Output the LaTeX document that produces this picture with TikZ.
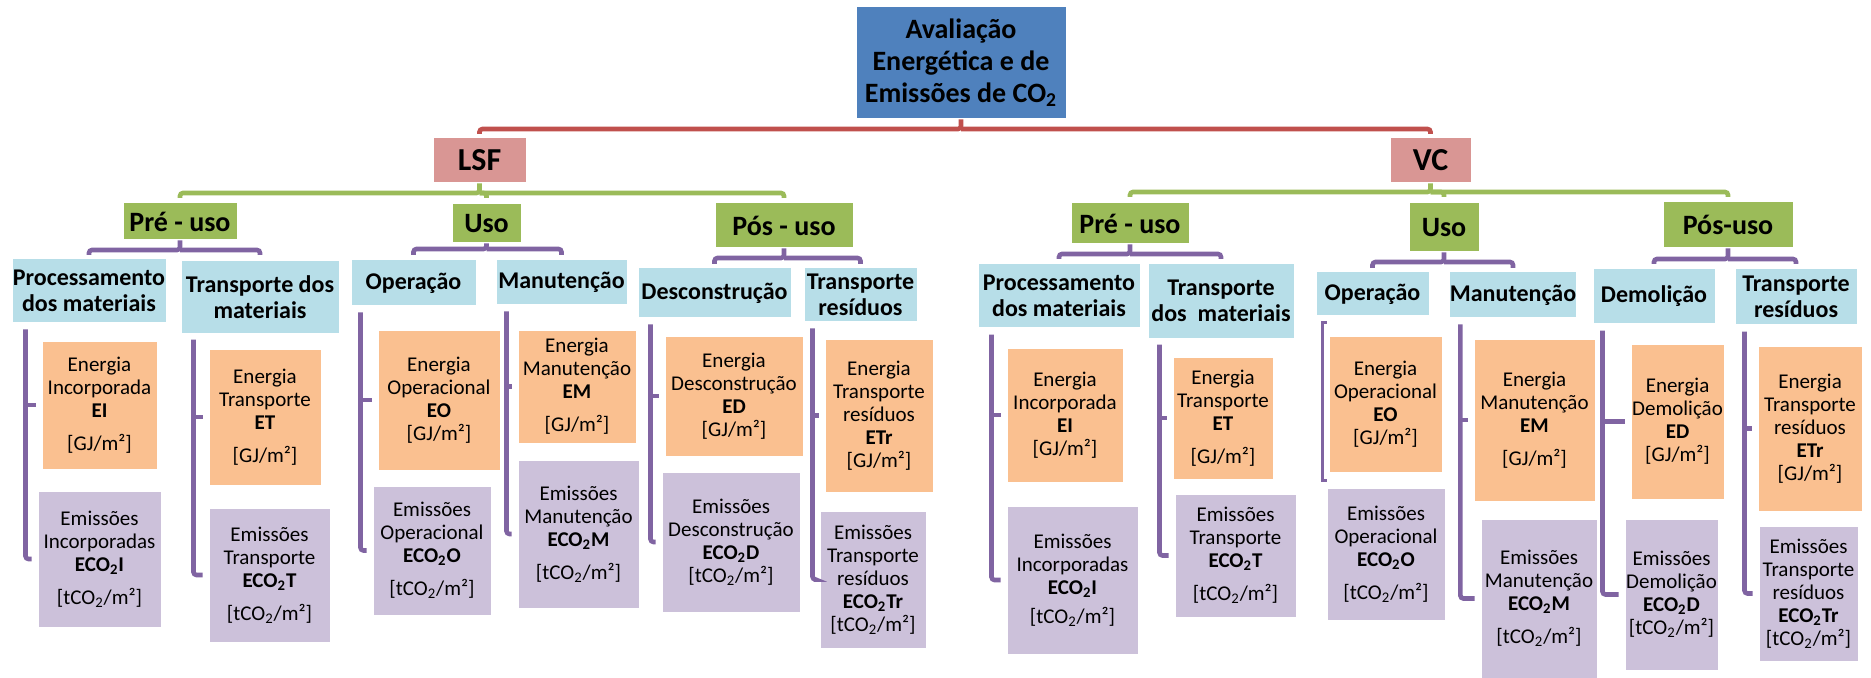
\documentclass[tikz,border=0pt]{standalone}
\usepackage{fontspec}
\setmainfont{Carlito}
\usetikzlibrary{calc}

\definecolor{titleblue}{HTML}{4F81BD}
\definecolor{rootpink}{HTML}{D99694}
\definecolor{phasegreen}{HTML}{9BBB59}
\definecolor{stageblue}{HTML}{B7DEE8}
\definecolor{energyorange}{HTML}{FAC090}
\definecolor{emislilac}{HTML}{CCC1DA}
\definecolor{linkred}{HTML}{C0504D}
\definecolor{linkpurple}{HTML}{8064A2}

\tikzset{
  cell/.style={rectangle, draw=white, line width=0.5pt, inner sep=0pt, align=center, text=black},
  titlebox/.style={cell, fill=titleblue, font=\fontsize{14}{16}\selectfont\bfseries},
  rootbox/.style={cell, fill=rootpink, font=\fontsize{16}{18}\selectfont\bfseries},
  phasebox/.style={cell, fill=phasegreen, font=\fontsize{14}{16}\selectfont\bfseries},
  stagebox/.style={cell, fill=stageblue, font=\fontsize{12}{13}\selectfont\bfseries},
  energybox/.style={cell, fill=energyorange, font=\fontsize{10.5}{11.5}\selectfont},
  emisbox/.style={cell, fill=emislilac, font=\fontsize{10.5}{11.5}\selectfont},
  link/.style={line width=2.3pt, rounded corners=1.5pt},
  redlink/.style={link, draw=linkred},
  greenlink/.style={link, draw=phasegreen},
  purplelink/.style={link, draw=linkpurple},
}

% box given by its corners (x1,y1) (x2,y2), y growing downwards
\newcommand{\placebox}[7]{%
  \node[#2, minimum width={(#5-(#3))*0.5pt}, minimum height={(#6-(#4))*0.5pt}]
    (#1) at ({(#3+#5)/2},{(#4+#6)/2}) {#7};}

% parent -> two children, elbow bracket at level #3, ends at #4
\newcommand{\phaselink}[6]{%
  \draw[#1] (#2.south) -- (#2.south |- 0,#3) -| (#5.north |- 0,#4);
  \draw[#1] (#2.south |- 0,#3) -| (#6.north |- 0,#4);}

% side rail under a stage box, with ticks towards its two children
\newcommand{\sidelink}[4]{%
  \coordinate (#1-top) at ($(#1.south west)+(#2,6)$);
  \draw[purplelink] (#1-top) |- ($(#4.west)+(-6,0)$);
  \draw[purplelink] (#1-top |- #3.west) -- ($(#3.west)+(-6,0)$);}

\newcommand{\gjunit}{[GJ/m²]}
\newcommand{\tcunit}{[tCO\textsubscript{2}/m²]}
\newcommand{\eco}[1]{\textbf{ECO\textsubscript{2}#1}}

\begin{document}
\begin{tikzpicture}[x=0.5pt, y=-0.5pt]
\useasboundingbox (0,0) rectangle (1871,678);

% ---------- top levels ----------
\placebox{title}{titlebox}{856}{7}{1066}{119}{Avaliação\\Energética e de\\Emissões de CO\textsubscript{2}}
\placebox{lsf}{rootbox}{433}{138}{526}{183}{LSF}
\placebox{vc}{rootbox}{1390}{138}{1471}{183}{VC}

\placebox{preL}{phasebox}{123}{203}{237}{240}{Pré - uso}
\placebox{usoL}{phasebox}{452}{204}{521}{243}{Uso}
\placebox{posL}{phasebox}{715}{203}{853}{248}{Pós - uso}
\placebox{preV}{phasebox}{1071}{203}{1189}{244}{Pré - uso}
\placebox{usoV}{phasebox}{1409}{203}{1479}{252}{Uso}
\placebox{posV}{phasebox}{1663}{202}{1793}{248}{Pós-uso}

% ---------- stages ----------
\placebox{procL}{stagebox}{12}{259}{166}{323}{Processamento\\dos materiais}
\placebox{trmL}{stagebox}{181}{261}{339}{333}{Transporte dos\\materiais}
\placebox{opL}{stagebox}{351}{260}{476}{306}{Operação}
\placebox{manL}{stagebox}{496}{260}{627}{305}{Manutenção}
\placebox{decL}{stagebox}{638}{268}{791}{318}{Desconstrução}
\placebox{trrL}{stagebox}{804}{268}{917}{322}{Transporte\\resíduos}

\placebox{procV}{stagebox}{978}{264}{1140}{328}{Processamento\\dos materiais}
\placebox{trmV}{stagebox}{1148}{264}{1294}{338}{Transporte\\dos\ \ materiais}
\placebox{opV}{stagebox}{1316}{272}{1429}{316}{Operação}
\placebox{manV}{stagebox}{1450}{272}{1576}{318}{Manutenção}
\placebox{demV}{stagebox}{1593}{269}{1715}{324}{Demolição}
\placebox{trrV}{stagebox}{1735}{269}{1857}{325}{Transporte\\resíduos}

% ---------- indicators, LSF ----------
\placebox{eiL}{energybox}{42}{341}{157}{469}{Energia\\Incorporada\\\textbf{EI}\\[5pt]{}\gjunit}
\placebox{eciL}{emisbox}{38}{491}{161}{627}{Emissões\\Incorporadas\\\eco{I}\\[5pt]{}\tcunit}
\placebox{etL}{energybox}{209}{349}{321}{485}{Energia\\Transporte\\\textbf{ET}\\[5pt]{}\gjunit}
\placebox{ectL}{emisbox}{209}{508}{330}{642}{Emissões\\Transporte\\\eco{T}\\[5pt]{}\tcunit}
\placebox{eoL}{energybox}{378}{330}{500}{470}{Energia\\Operacional\\\textbf{EO}\\{}\gjunit}
\placebox{ecoL}{emisbox}{373}{486}{491}{615}{Emissões\\Operacional\\\eco{O}\\[5pt]{}\tcunit}
\placebox{emL}{energybox}{518}{330}{636}{443}{Energia\\Manutenção\\\textbf{EM}\\[5pt]{}\gjunit}
\placebox{ecmL}{emisbox}{518}{460}{639}{608}{Emissões\\Manutenção\\\eco{M}\\[5pt]{}\tcunit}
\placebox{edL}{energybox}{665}{336}{803}{456}{Energia\\Desconstrução\\\textbf{ED}\\{}\gjunit}
\placebox{ecdL}{emisbox}{662}{472}{800}{612}{Emissões\\Desconstrução\\\eco{D}\\{}\tcunit}
\placebox{etrL}{energybox}{825}{339}{933}{492}{Energia\\Transporte\\resíduos\\\textbf{ETr}\\{}\gjunit}
\placebox{ectrL}{emisbox}{820}{511}{926}{648}{Emissões\\Transporte\\resíduos\\\eco{Tr}\\{}\tcunit}

% ---------- indicators, VC ----------
\placebox{eiV}{energybox}{1007}{348}{1123}{482}{Energia\\Incorporada\\\textbf{EI}\\{}\gjunit}
\placebox{eciV}{emisbox}{1007}{506}{1138}{654}{Emissões\\Incorporadas\\\eco{I}\\[3pt]{}\tcunit}
\placebox{etV}{energybox}{1173}{357}{1273}{479}{Energia\\Transporte\\\textbf{ET}\\[5pt]{}\gjunit}
\placebox{ectV}{emisbox}{1175}{494}{1296}{617}{Emissões\\Transporte\\\eco{T}\\[5pt]{}\tcunit}
\placebox{eoV}{energybox}{1329}{336}{1442}{472}{Energia\\Operacional\\\textbf{EO}\\{}\gjunit}
\placebox{ecoV}{emisbox}{1327}{488}{1445}{620}{Emissões\\Operacional\\\eco{O}\\[5pt]{}\tcunit}
\placebox{emV}{energybox}{1474}{339}{1595}{501}{Energia\\Manutenção\\\textbf{EM}\\[5pt]{}\gjunit}
\placebox{ecmV}{emisbox}{1481}{519}{1597}{678}{Emissões\\Manutenção\\\eco{M}\\[5pt]{}\tcunit}
\placebox{edV}{energybox}{1631}{344}{1724}{499}{Energia\\Demolição\\\textbf{ED}\\{}\gjunit}
\placebox{ecdV}{emisbox}{1625}{519}{1718}{670}{Emissões\\Demolição\\\eco{D}\\{}\tcunit}
\placebox{etrV}{energybox}{1758}{346}{1862}{511}{Energia\\Transporte\\resíduos\\\textbf{ETr}\\{}\gjunit}
\placebox{ectrV}{emisbox}{1759}{526}{1858}{661}{Emissões\\Transporte\\resíduos\\\eco{Tr}\\{}\tcunit}

% ---------- connectors ----------
\phaselink{redlink}{title}{129}{134}{lsf}{vc}

\phaselink{greenlink}{lsf}{193}{198}{preL}{posL}
\draw[greenlink] (lsf.south |- 0,193) -| (usoL.north |- 0,198);
\phaselink{greenlink}{vc}{192}{197}{preV}{posV}
\draw[greenlink] (vc.south |- 0,192) -| (usoV.north |- 0,197);

\phaselink{purplelink}{preL}{250}{255}{procL}{trmL}
\phaselink{purplelink}{usoL}{249}{255}{opL}{manL}
\phaselink{purplelink}{posL}{258}{264}{decL}{trrL}
\phaselink{purplelink}{preV}{254}{259}{procV}{trmV}
\phaselink{purplelink}{usoV}{262}{268}{opV}{manV}
\phaselink{purplelink}{posV}{259}{264}{demV}{trrV}

\sidelink{procL}{14}{eiL}{eciL}
\sidelink{trmL}{13}{etL}{ectL}
\sidelink{opL}{10}{eoL}{ecoL}
\sidelink{manL}{11}{emL}{ecmL}
\sidelink{decL}{13}{edL}{ecdL}
\sidelink{trrL}{9}{etrL}{ectrL}

\sidelink{procV}{14}{eiV}{eciV}
\sidelink{trmV}{12}{etV}{ectV}
\sidelink{manV}{11}{emV}{ecmV}
\sidelink{demV}{10}{edV}{ecdV}
\sidelink{trrV}{10}{etrV}{ectrV}

% thin rail beside the VC operation indicators
\coordinate (opV-top) at ($(opV.south west)+(7,6)$);
\draw[linkpurple, line width=1.2pt] ($(opV-top)+(4,0)$) -- (opV-top)
  -- ($(opV-top |- eoV.south)+(0,8)$) -- ++(4,0);

\end{tikzpicture}
\end{document}
